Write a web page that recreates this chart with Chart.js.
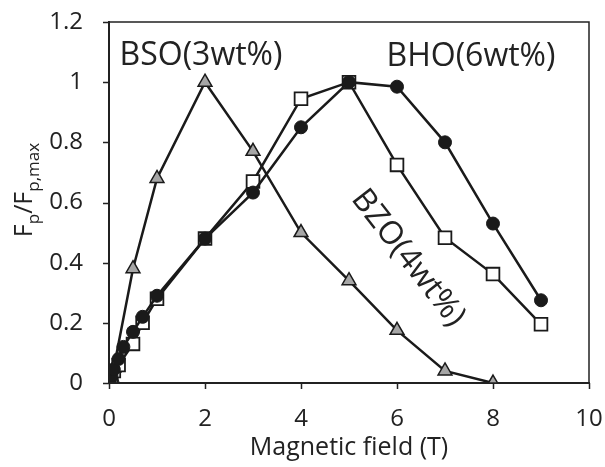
<!DOCTYPE html>
<html>
<head>
<meta charset="utf-8">
<script src="https://cdn.jsdelivr.net/npm/chart.js@4.4.1/dist/chart.umd.min.js"></script>
<style>
  html, body { margin: 0; padding: 0; background: #fff; }
  #wrap { width: 605px; height: 467px; }
</style>
</head>
<body>
<div id="wrap"><canvas id="fp"></canvas></div>
<script>
// field values (T) and normalized pinning force for each sample
const bsoField = [0, 0.05, 0.1, 0.5, 1, 2, 3, 4, 5, 6, 7, 8];
const bsoFp = [0, 0.02, 0.05, 0.38, 0.68, 1.0, 0.77, 0.5, 0.34, 0.175, 0.04, 0.0];

const bzoField = [0, 0.05, 0.1, 0.2, 0.5, 0.7, 1, 2, 3, 4, 5, 6, 7, 8, 9];
const bzoFp = [0, 0.02, 0.04, 0.06, 0.13, 0.2, 0.28, 0.48, 0.67, 0.945, 1.0, 0.725, 0.483, 0.362, 0.195];

const bhoField = [0, 0.02, 0.05, 0.1, 0.2, 0.3, 0.5, 0.7, 1, 2, 3, 4, 5, 6, 7, 8, 9];
const bhoFp = [0, 0.01, 0.025, 0.045, 0.08, 0.12, 0.17, 0.22, 0.29, 0.48, 0.633, 0.85, 1.0, 0.985, 0.80, 0.53, 0.275];

const xTicks = [0, 2, 4, 6, 8, 10];
const yTicks = [0, 0.2, 0.4, 0.6, 0.8, 1, 1.2];

const FONT = '"Open Sans", "DejaVu Sans", sans-serif';
const INK = '#222';
const TICK = 6; // visible tick mark length

const pts = (xs, ys) => xs.map((x, i) => ({ x: x, y: ys[i] }));

// box around the plot, outward tick marks and the text labels
const decorations = {
  id: 'decorations',
  afterDraw(chart) {
    const { ctx, chartArea: a, scales } = chart;
    ctx.save();
    ctx.strokeStyle = INK;
    ctx.lineWidth = 1.5;
    ctx.strokeRect(a.left, a.top, a.right - a.left, a.bottom - a.top);

    ctx.beginPath();
    xTicks.forEach(v => {
      const px = Math.round(scales.x.getPixelForValue(v)) + 0.5;
      ctx.moveTo(px, a.bottom);
      ctx.lineTo(px, a.bottom + TICK);
    });
    yTicks.forEach(v => {
      const py = Math.round(scales.y.getPixelForValue(v)) + 0.5;
      ctx.moveTo(a.left, py);
      ctx.lineTo(a.left - TICK, py);
    });
    ctx.stroke();

    ctx.fillStyle = INK;
    ctx.textBaseline = 'middle';
    ctx.textAlign = 'center';
    ctx.font = '32px ' + FONT;
    ctx.fillText('BSO(3wt%)', 201, 56);
    ctx.fillText('BHO(6wt%)', 471, 57);

    ctx.save();
    ctx.translate(408, 258);
    ctx.rotate(52 * Math.PI / 180);
    ctx.fillText('BZO(4wt%)', 0, 0);
    ctx.restore();

    // y title with subscripts: F_p/F_p,max
    ctx.save();
    ctx.translate(32, 190);
    ctx.rotate(-Math.PI / 2);
    ctx.textAlign = 'left';
    ctx.textBaseline = 'alphabetic';
    const big = '25px ' + FONT, small = '17px ' + FONT;
    const parts = [['F', big, 0], ['p', small, 7], ['/F', big, 0], ['p,max', small, 7]];
    let w = 0;
    parts.forEach(p => { ctx.font = p[1]; w += ctx.measureText(p[0]).width; });
    let x = -w / 2;
    parts.forEach(p => {
      ctx.font = p[1];
      ctx.fillText(p[0], x, p[2]);
      x += ctx.measureText(p[0]).width;
    });
    ctx.restore();
    ctx.restore();
  }
};

new Chart(document.getElementById('fp'), {
  type: 'scatter',
  data: {
    datasets: [
      {
        label: 'BSO(3wt%)',
        data: pts(bsoField, bsoFp),
        showLine: true,
        borderColor: '#1a1a1a',
        borderWidth: 2.5,
        pointStyle: 'triangle',
        pointRadius: 8,
        pointBackgroundColor: '#a6a6a6',
        pointBorderColor: '#1a1a1a',
        pointBorderWidth: 1.5,
        order: 3
      },
      {
        label: 'BZO(4wt%)',
        data: pts(bzoField, bzoFp),
        showLine: true,
        borderColor: '#1a1a1a',
        borderWidth: 2.5,
        pointStyle: 'rect',
        pointRadius: 9,
        pointBackgroundColor: '#fff',
        pointBorderColor: '#1a1a1a',
        pointBorderWidth: 1.8,
        order: 2
      },
      {
        label: 'BHO(6wt%)',
        data: pts(bhoField, bhoFp),
        showLine: true,
        borderColor: '#1a1a1a',
        borderWidth: 2.5,
        pointStyle: 'circle',
        pointRadius: 6.5,
        pointBackgroundColor: '#1a1a1a',
        pointBorderColor: '#1a1a1a',
        pointBorderWidth: 1,
        order: 1
      }
    ]
  },
  options: {
    responsive: true,
    maintainAspectRatio: false,
    animation: false,
    layout: { padding: { top: 22, right: 16, left: 0, bottom: 0 } },
    plugins: { legend: { display: false }, tooltip: { enabled: false } },
    scales: {
      x: {
        type: 'linear',
        min: 0,
        max: 10,
        afterBuildTicks: s => { s.ticks = xTicks.map(v => ({ value: v })); },
        afterFit: s => { s.height = 84; },
        // long invisible ticks push the labels away from the axis
        grid: { drawOnChartArea: false, drawTicks: true, tickLength: 22, tickColor: 'rgba(0,0,0,0)' },
        border: { display: true, color: INK, width: 2 },
        ticks: { color: INK, font: { family: FONT, size: 24 }, padding: 0, maxRotation: 0 },
        title: { display: true, text: 'Magnetic field (T)', color: INK, font: { family: FONT, size: 25 }, padding: { top: 0, bottom: 4 } }
      },
      y: {
        type: 'linear',
        min: 0,
        max: 1.2,
        afterBuildTicks: s => { s.ticks = yTicks.map(v => ({ value: v })); },
        afterFit: s => { s.width = 109; },
        grid: { drawOnChartArea: false, drawTicks: true, tickLength: 26, tickColor: 'rgba(0,0,0,0)' },
        border: { display: true, color: INK, width: 2 },
        ticks: { color: INK, font: { family: FONT, size: 24 }, padding: 0, callback: v => String(+v.toFixed(1)) }
      }
    }
  },
  plugins: [decorations]
});
</script>
</body>
</html>
